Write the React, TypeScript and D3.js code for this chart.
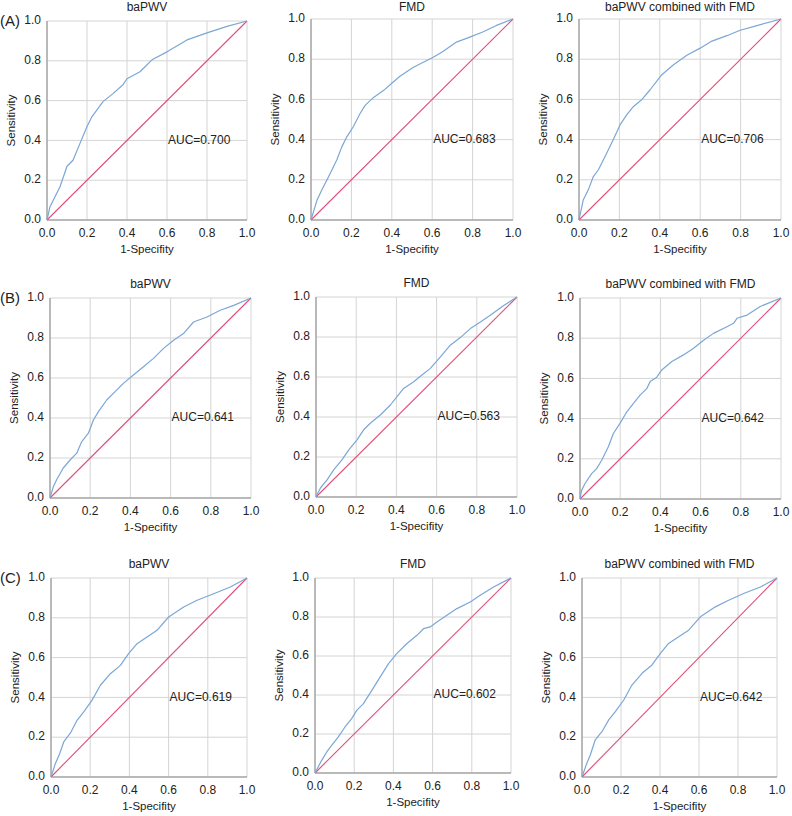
import React from "react";
import * as d3 from "d3";

// ROC curve values, [1-specificity, sensitivity]
const rocA1 = [[0,0],[0.015,0.067],[0.065,0.167],[0.1,0.27],[0.13,0.3],[0.165,0.385],[0.2,0.47],[0.225,0.52],[0.28,0.595],[0.33,0.635],[0.38,0.68],[0.4,0.71],[0.465,0.745],[0.525,0.805],[0.6,0.845],[0.7,0.905],[0.8,0.94],[0.9,0.973],[1,1]];
const rocA2 = [[0,0],[0.03,0.1],[0.054,0.15],[0.087,0.215],[0.128,0.3],[0.153,0.365],[0.178,0.415],[0.21,0.465],[0.243,0.53],[0.268,0.57],[0.31,0.61],[0.36,0.645],[0.4,0.68],[0.44,0.715],[0.507,0.76],[0.556,0.785],[0.605,0.81],[0.655,0.84],[0.72,0.885],[0.786,0.91],[0.85,0.935],[0.918,0.968],[1,1]];
const rocA3 = [[0,0],[0.021,0.1],[0.046,0.15],[0.071,0.216],[0.096,0.25],[0.129,0.316],[0.17,0.4],[0.203,0.473],[0.236,0.523],[0.27,0.565],[0.31,0.598],[0.352,0.648],[0.41,0.723],[0.468,0.772],[0.534,0.82],[0.6,0.855],[0.658,0.89],[0.732,0.917],[0.798,0.944],[0.881,0.967],[1,1]];
const rocB1 = [[0,0],[0.017,0.058],[0.033,0.091],[0.066,0.15],[0.1,0.19],[0.133,0.224],[0.158,0.282],[0.191,0.324],[0.216,0.39],[0.241,0.432],[0.282,0.49],[0.324,0.532],[0.365,0.573],[0.415,0.615],[0.465,0.656],[0.515,0.698],[0.565,0.748],[0.615,0.789],[0.664,0.822],[0.714,0.88],[0.781,0.905],[0.847,0.939],[0.914,0.963],[1,1]];
const rocB2 = [[0,0],[0.022,0.045],[0.055,0.086],[0.088,0.136],[0.129,0.186],[0.163,0.236],[0.204,0.286],[0.237,0.336],[0.27,0.369],[0.32,0.41],[0.37,0.46],[0.403,0.502],[0.436,0.543],[0.486,0.576],[0.527,0.61],[0.569,0.643],[0.619,0.701],[0.668,0.759],[0.718,0.797],[0.768,0.842],[0.818,0.875],[0.867,0.909],[0.934,0.958],[1,1]];
const rocB3 = [[0,0],[0.008,0.043],[0.025,0.077],[0.058,0.126],[0.083,0.151],[0.108,0.193],[0.141,0.26],[0.166,0.326],[0.199,0.376],[0.233,0.434],[0.266,0.476],[0.299,0.517],[0.332,0.549],[0.349,0.584],[0.382,0.606],[0.407,0.642],[0.457,0.684],[0.515,0.717],[0.565,0.75],[0.615,0.79],[0.664,0.824],[0.731,0.857],[0.764,0.874],[0.781,0.899],[0.831,0.915],[0.897,0.958],[1,1]];
const rocC1 = [[0,0],[0.022,0.067],[0.044,0.117],[0.065,0.176],[0.102,0.226],[0.133,0.285],[0.167,0.327],[0.209,0.385],[0.252,0.461],[0.303,0.519],[0.354,0.561],[0.396,0.62],[0.439,0.67],[0.49,0.703],[0.541,0.737],[0.6,0.804],[0.677,0.854],[0.745,0.888],[0.83,0.921],[0.915,0.955],[1,1]];
const rocC2 = [[0,0],[0.034,0.065],[0.06,0.108],[0.085,0.142],[0.119,0.185],[0.153,0.236],[0.187,0.279],[0.213,0.321],[0.247,0.356],[0.29,0.424],[0.332,0.492],[0.375,0.561],[0.417,0.612],[0.468,0.663],[0.52,0.706],[0.554,0.74],[0.588,0.749],[0.622,0.774],[0.673,0.809],[0.724,0.843],[0.792,0.877],[0.843,0.911],[0.911,0.954],[1,1]];
const rocC3 = [[0,0],[0.022,0.062],[0.043,0.112],[0.068,0.187],[0.103,0.229],[0.137,0.287],[0.171,0.329],[0.214,0.387],[0.256,0.462],[0.308,0.521],[0.359,0.563],[0.402,0.621],[0.444,0.671],[0.496,0.705],[0.547,0.738],[0.607,0.805],[0.684,0.855],[0.752,0.888],[0.829,0.922],[0.915,0.955],[1,1]];

const titles = ["baPWV", "FMD", "baPWV combined with FMD"];
const rowLabels = ["(A)", "(B)", "(C)"];
const aucs = [["0.700", "0.683", "0.706"], ["0.641", "0.563", "0.642"], ["0.619", "0.602", "0.642"]];
const curves = [[rocA1, rocA2, rocA3], [rocB1, rocB2, rocB3], [rocC1, rocC2, rocC3]];
const ticks = [0, 0.2, 0.4, 0.6, 0.8, 1.0];

// plot boxes [left, top, right, bottom]
const boxes = [
  [[47, 21, 247, 220], [311, 19, 513, 220], [579, 19, 781, 220]],
  [[50, 298, 251, 498], [316, 297, 517, 497], [580, 298, 781, 499]],
  [[51, 578, 247, 777], [315, 578, 511, 773], [582, 578, 777, 777]],
];

const font = "'Liberation Sans', Arial, sans-serif";

function Panel({ box, data, title, auc }) {
  const [l, t, r, b] = box;
  const x = d3.scaleLinear().domain([0, 1]).range([l, r]);
  const y = d3.scaleLinear().domain([0, 1]).range([b, t]);
  const line = d3.line().x(d => x(d[0])).y(d => y(d[1]));
  const titleY = Math.max(t - 13, 8);
  return (
    <g>
      {ticks.map(v => (
        <line key={"v" + v} x1={x(v)} x2={x(v)} y1={t} y2={b} stroke="#d4d4d4" strokeWidth={1} />
      ))}
      {ticks.map(v => (
        <line key={"h" + v} x1={l} x2={r} y1={y(v)} y2={y(v)} stroke="#d4d4d4" strokeWidth={1} />
      ))}
      <line x1={l} x2={l} y1={t} y2={b} stroke="#a8a8a8" strokeWidth={1.5} />
      <line x1={l} x2={r} y1={b} y2={b} stroke="#a8a8a8" strokeWidth={1.5} />
      <path d={line([[0, 0], [1, 1]])} fill="none" stroke="#e0507a" strokeWidth={1.1} />
      <path d={line(data)} fill="none" stroke="#7ba7d6" strokeWidth={1.2} strokeLinejoin="round" />
      {ticks.map(v => (
        <text key={"xt" + v} x={x(v)} y={b + 14} textAnchor="middle" dominantBaseline="middle" fontSize={12} fill="#222">{v.toFixed(1)}</text>
      ))}
      {ticks.map(v => (
        <text key={"yt" + v} x={l - 6} y={y(v)} textAnchor="end" dominantBaseline="middle" fontSize={12} fill="#222">{v.toFixed(1)}</text>
      ))}
      <text x={(l + r) / 2} y={titleY} textAnchor="middle" dominantBaseline="middle" fontSize={12} fill="#222">{title}</text>
      <text x={(l + r) / 2} y={b + 30} textAnchor="middle" dominantBaseline="middle" fontSize={11.5} fill="#222">1-Specifity</text>
      <text transform={`translate(${l - 35},${(t + b) / 2}) rotate(-90)`} textAnchor="middle" dominantBaseline="middle" fontSize={11.5} fill="#222">Sensitivity</text>
      <text x={x(0.6) + 1} y={y(0.4)} dominantBaseline="middle" fontSize={12} fill="#222">AUC={auc}</text>
    </g>
  );
}

export default function App() {
  return (
    <svg width={792} height={816} style={{ position: "absolute", left: 0, top: 0, background: "#fff" }} fontFamily={font}>
      <rect width={792} height={816} fill="#fff" />
      {curves.map((row, i) => (
        <g key={i}>
          <text x={0} y={boxes[i][0][1] + 1} dominantBaseline="middle" fontSize={15} fill="#222">{rowLabels[i]}</text>
          {row.map((data, j) => (
            <Panel key={j} box={boxes[i][j]} data={data} title={titles[j]} auc={aucs[i][j]} />
          ))}
        </g>
      ))}
    </svg>
  );
}
